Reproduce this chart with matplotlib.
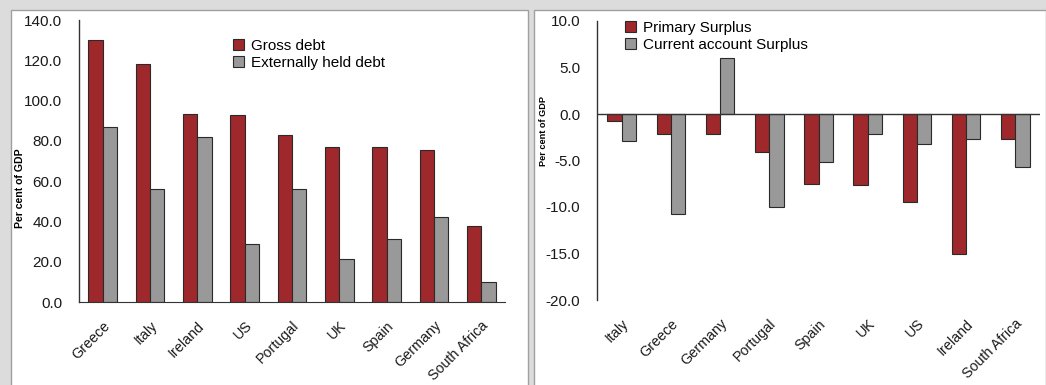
import matplotlib.pyplot as plt
import numpy as np
from matplotlib.patches import Rectangle

plt.rcParams['font.family'] = ['Liberation Sans', 'DejaVu Sans']

# left chart: debt levels
debt_countries = ['Greece', 'Italy', 'Ireland', 'US', 'Portugal', 'UK', 'Spain', 'Germany', 'South Africa']
gross_debt = [130.2, 118.3, 93.5, 92.6, 83.1, 76.9, 76.9, 75.4, 37.7]
external_debt = [87.1, 56.0, 82.1, 28.9, 56.0, 21.3, 31.2, 42.0, 9.9]

# right chart: surpluses
surplus_countries = ['Italy', 'Greece', 'Germany', 'Portugal', 'Spain', 'UK', 'US', 'Ireland', 'South Africa']
primary_surplus = [-0.8, -2.2, -2.2, -4.1, -7.5, -7.6, -9.5, -15.0, -2.65]
current_surplus = [-2.85, -10.8, 6.05, -9.95, -5.2, -2.2, -3.25, -2.7, -5.7]

RED = '#9e282b'
GREY = '#999999'
EDGE = '#2a2a2a'

fig = plt.figure(figsize=(10.46, 3.85), dpi=100)
fig.patch.set_facecolor('#dcdcdc')
W, H = 1046, 385
# white panels
for x0, x1 in [(11, 528), (534, 1046)]:
    fig.patches.append(Rectangle((x0 / W, -0.01), (x1 - x0) / W, 1.01 - 10 / H,
                                 transform=fig.transFigure, facecolor='white',
                                 edgecolor='#a0a0a0', linewidth=1.0, zorder=-5))


def style_axes(ax):
    ax.set_facecolor('none')
    for s in ['top', 'right']:
        ax.spines[s].set_visible(False)
    ax.spines['left'].set_color('#333333')
    ax.spines['left'].set_linewidth(1.0)
    ax.tick_params(axis='both', length=0, labelsize=11, colors='#1a1a1a')
    ax.tick_params(axis='y', pad=12)
    ax.tick_params(axis='x', pad=12, labelsize=10.3)


def draw_bars(ax, cats, a, b, la, lb, width):
    x = np.arange(len(cats))
    h1 = ax.bar(x - width / 2, a, width, color=RED, edgecolor=EDGE, linewidth=0.8, label=la)
    h2 = ax.bar(x + width / 2, b, width, color=GREY, edgecolor=EDGE, linewidth=0.8, label=lb)
    ax.set_xticks(x)
    ax.set_xticklabels(cats, rotation=45, ha='right', rotation_mode='anchor')
    ax.set_xlim(-0.5, 8.5)
    return h1, h2


legend_kw = dict(loc='upper left', bbox_transform=fig.transFigure, frameon=False, fontsize=11,
                 handlelength=0.75, handleheight=0.75, handletextpad=0.4,
                 labelspacing=0.18, borderpad=0, borderaxespad=0)

ax1 = fig.add_axes([79 / W, 1 - 302 / H, (505 - 79) / W, (302 - 20) / H])
style_axes(ax1)
draw_bars(ax1, debt_countries, gross_debt, external_debt, 'Gross debt', 'Externally held debt', 0.3)
ax1.set_ylim(0, 140)
ax1.set_yticks(np.arange(0, 141, 20))
ax1.set_yticklabels([f'{v:.1f}' for v in np.arange(0, 141, 20)])
ax1.spines['bottom'].set_color('#333333')
ax1.legend(bbox_to_anchor=(233 / W, 1 - 39 / H), **legend_kw)
fig.text(20 / W, 1 - 188 / H, 'Per cent of GDP', rotation=90, fontsize=7.6, fontweight='bold',
         ha='center', va='center')

ax2 = fig.add_axes([597 / W, 1 - 300 / H, (1040 - 597) / W, (300 - 21) / H])
style_axes(ax2)
draw_bars(ax2, surplus_countries, primary_surplus, current_surplus, 'Primary Surplus', 'Current account Surplus', 0.29)
ax2.set_ylim(-20, 10)
ax2.set_yticks(np.arange(-20, 11, 5))
ax2.set_yticklabels([f'{v:.1f}' for v in np.arange(-20, 11, 5)])
ax2.spines['bottom'].set_visible(False)
ax2.axhline(0, color='#333333', linewidth=1.0, zorder=3)
ax2.legend(bbox_to_anchor=(625 / W, 1 - 21 / H), **legend_kw)
fig.text(543 / W, 1 - 131 / H, 'Per cent of GDP', rotation=90, fontsize=6.6, fontweight='bold',
         ha='center', va='center')

fig.savefig('out.png', dpi=100, facecolor=fig.get_facecolor())
